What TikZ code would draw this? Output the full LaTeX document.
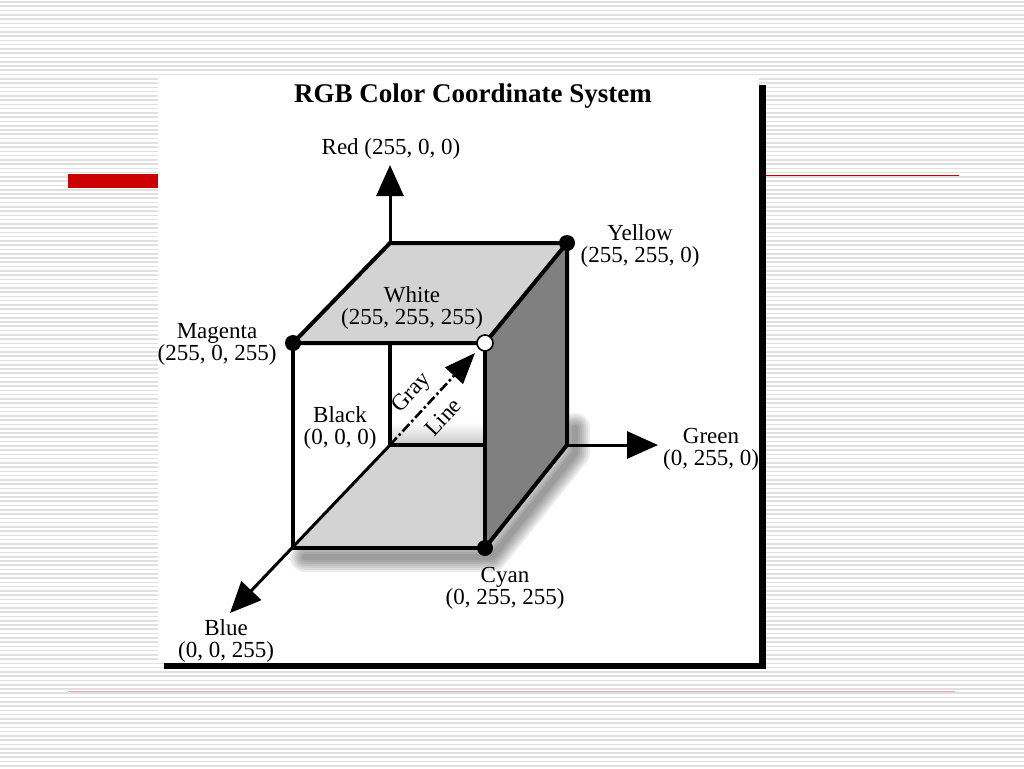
\documentclass[tikz,border=0pt]{standalone}
\usepackage{fontspec}
\setmainfont{Liberation Serif}
\usetikzlibrary{arrows.meta}
\definecolor{slidered}{RGB}{204,0,0}
\definecolor{stripegray}{RGB}{224,224,224}
\definecolor{linepink}{RGB}{228,168,168}
\definecolor{lightface}{RGB}{211,211,211}
\definecolor{darkface}{RGB}{128,128,128}
\begin{document}
\begin{tikzpicture}[x=1pt,y=-1pt,
  lbl/.style={font=\fontsize{23}{22}\selectfont, inner sep=0pt, anchor=base, align=center},
  cubeedge/.style={line width=4pt},
  axisline/.style={line width=3pt},
  axisarrow/.style={-{Triangle[length=31pt,width=27pt]}},
  corner/.style={circle, fill=black, minimum size=16pt, inner sep=0pt},
  opencorner/.style={circle, fill=white, draw=black, line width=1.6pt, minimum size=16pt, inner sep=0pt},
  grayline/.style={line width=2.6pt, dash pattern=on 10pt off 3pt on 2.5pt off 3pt},
  grayarrow/.style={-{Triangle[length=31pt,width=24pt]}}]
\useasboundingbox (0,0) rectangle (1024,768);
% slide background
\fill[white] (0,0) rectangle (1024,768);
\foreach \i in {0,...,180}{
  \fill[stripegray] (0,\i*4.267+1.2) rectangle (1024,\i*4.267+2.8);
}
\fill[slidered] (68,174) rectangle (160,188);
\draw[slidered, line width=1pt] (766,175) -- (959,175);
\draw[linepink, line width=1pt] (68,691) -- (955,691);
% panel
\fill[black] (164,85) rectangle (766,669);
\fill[white] (158,77) rectangle (759,663);
\node[font=\fontsize{27}{30}\selectfont\bfseries, inner sep=0pt, anchor=base] (title) at (473,102) {RGB Color Coordinate System};
% cube coordinates
\coordinate (O) at (390,445);
\coordinate (Rtop) at (390,243);
\coordinate (Rfront) at (390,343);
\coordinate (Y) at (567,243);
\coordinate (M) at (293,343);
\coordinate (W) at (485,343);
\coordinate (FBL) at (293,548);
\coordinate (C) at (485,548);
\coordinate (BBR) at (567,445);
\coordinate (Ob) at (485,445);
\coordinate (Rtip) at (390,165);
\coordinate (Gtip) at (658,445);
\coordinate (Btip) at (230,613);
\coordinate (Wtip) at (475,353);
% soft shadow of the cube
\foreach \w in {30,26,22,18,14,10,6}{
  \draw[black, opacity=0.065, line width=\w pt, line join=round, line cap=round]
    (305,557) -- (492,557) -- (575,453) -- (575,428);
}
% open front, walls and floor
\fill[white] (M) -- (W) -- (C) -- (FBL) -- cycle;
\shade[top color=white, bottom color=black!22] (390,422) rectangle (485,445);
\fill[lightface] (O) -- (Ob) -- (C) -- (FBL) -- cycle;
\fill[lightface] (M) -- (Rtop) -- (Y) -- (W) -- cycle;
\fill[darkface] (W) -- (Y) -- (BBR) -- (C) -- cycle;
% edges
\draw[cubeedge] (M) -- (Rtop) -- (Y) -- (W) -- cycle;
\draw[cubeedge] (Y) -- (BBR) -- (C);
\draw[cubeedge] (M) -- (FBL) -- (C) -- (W);
\draw[cubeedge] (Rfront) -- (O) -- (Ob);
% axes
\draw[axisline, axisarrow] (Rtop) -- (Rtip);
\draw[axisline, axisarrow] (BBR) -- (Gtip);
\draw[axisline, axisarrow] (O) -- (Btip);
% gray line
\draw[grayline, grayarrow] (O) -- (Wtip);
% corners
\node[corner] (magdot) at (M) {};
\node[corner] (yeldot) at (Y) {};
\node[corner] (cyandot) at (C) {};
\node[opencorner] (whitedot) at (W) {};
% labels (anchor = baseline of the last line)
\node[lbl] (redlbl) at (391,154) {Red (255, 0, 0)};
\node[lbl] (yellbl) at (640,262) {Yellow\\(255, 255, 0)};
\node[lbl] (whitelbl) at (412,324) {White\\(255, 255, 255)};
\node[lbl] (maglbl) at (217,360) {Magenta\\(255, 0, 255)};
\node[lbl] (blacklbl) at (340,444) {Black\\(0, 0, 0)};
\node[lbl] (greenlbl) at (711,465) {Green\\(0, 255, 0)};
\node[lbl] (cyanlbl) at (505,604) {Cyan\\(0, 255, 255)};
\node[lbl] (bluelbl) at (226,657) {Blue\\(0, 0, 255)};
\node[font=\fontsize{23}{22}\selectfont, inner sep=0pt, rotate=47] (graylbl) at (412,393) {Gray};
\node[font=\fontsize{23}{22}\selectfont, inner sep=0pt, rotate=47] (linelbl) at (443,417) {Line};
\end{tikzpicture}
\end{document}
